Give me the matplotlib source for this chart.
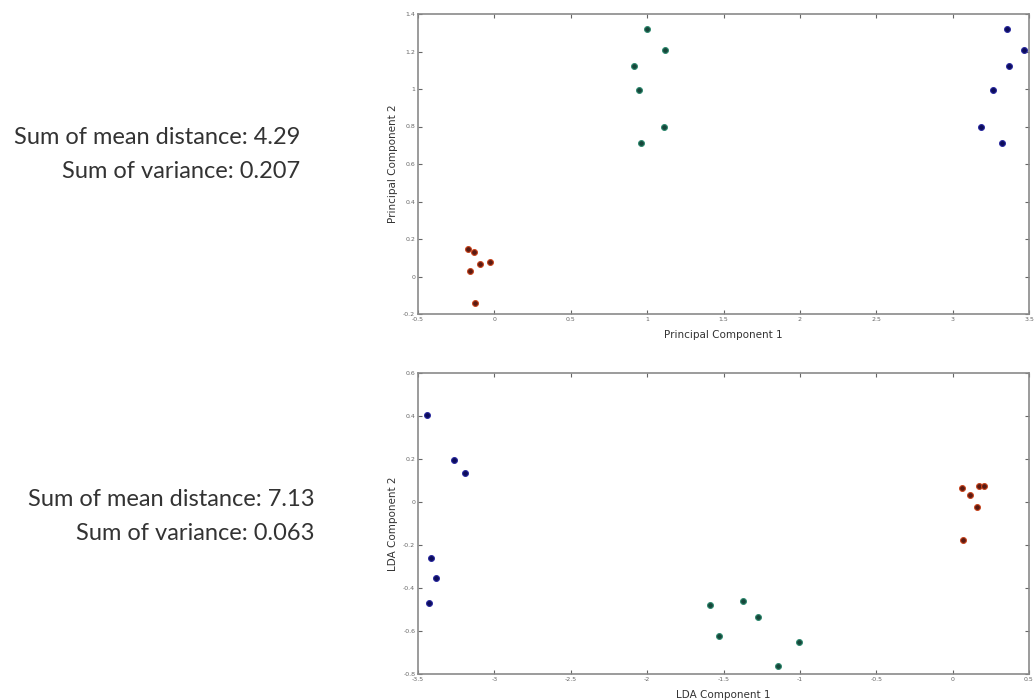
import matplotlib
matplotlib.use("Agg")
import matplotlib.pyplot as plt
import numpy as np

# ---- data ----
pca_red_x = [-0.173, -0.133, -0.157, -0.096, -0.031, -0.129]
pca_red_y = [0.145, 0.129, 0.029, 0.065, 0.077, -0.143]
pca_green_x = [1.001, 1.117, 0.912, 0.947, 1.113, 0.962]
pca_green_y = [1.318, 1.206, 1.123, 0.995, 0.796, 0.710]
pca_blue_x = [3.359, 3.469, 3.368, 3.267, 3.188, 3.323]
pca_blue_y = [1.318, 1.206, 1.123, 0.995, 0.796, 0.710]

lda_blue_x = [-3.441, -3.264, -3.194, -3.415, -3.380, -3.428]
lda_blue_y = [0.404, 0.195, 0.135, -0.259, -0.352, -0.468]
lda_green_x = [-1.590, -1.373, -1.271, -1.528, -1.009, -1.142]
lda_green_y = [-0.480, -0.460, -0.536, -0.625, -0.652, -0.762]
lda_red_x = [0.059, 0.170, 0.207, 0.116, 0.159, 0.066]
lda_red_y = [0.065, 0.076, 0.076, 0.031, -0.025, -0.176]

pca_xticks = [-0.5, 0, 0.5, 1, 1.5, 2, 2.5, 3, 3.5]
pca_xlabels = ["-0.5", "0", "0.5", "1", "1.5", "2", "2.5", "3", "3.5"]
pca_yticks = [-0.2, 0, 0.2, 0.4, 0.6, 0.8, 1.0, 1.2, 1.4]
pca_ylabels = ["-0.2", "0", "0.2", "0.4", "0.6", "0.8", "1", "1.2", "1.4"]
lda_xticks = [-3.5, -3, -2.5, -2, -1.5, -1, -0.5, 0, 0.5]
lda_xlabels = ["-3.5", "-3", "-2.5", "-2", "-1.5", "-1", "-0.5", "0", "0.5"]
lda_yticks = [-0.8, -0.6, -0.4, -0.2, 0, 0.2, 0.4, 0.6]
lda_ylabels = ["-0.8", "-0.6", "-0.4", "-0.2", "0", "0.2", "0.4", "0.6"]

pca_text = ["Sum of mean distance: 4.29", "Sum of variance: 0.207"]
lda_text = ["Sum of mean distance: 7.13", "Sum of variance: 0.063"]

# ---- styles ----
RED_FACE, RED_EDGE = "#5a1a12", "#c8451e"
GREEN_FACE, GREEN_EDGE = "#16463a", "#2f8a70"
BLUE_FACE, BLUE_EDGE = "#0c0c5a", "#2a2aa0"

W, H = 1034, 700
fig = plt.figure(figsize=(W / 100, H / 100), dpi=100)


def px_axes(left, top, right, bottom):
    return fig.add_axes([left / W, 1 - bottom / H, (right - left) / W, (bottom - top) / H])


def style(ax, xt, xl, yt, yl, xlim, ylim, xlabel, ylabel):
    ax.set_xlim(*xlim)
    ax.set_ylim(*ylim)
    ax.set_xticks(xt)
    ax.set_xticklabels(xl)
    ax.set_yticks(yt)
    ax.set_yticklabels(yl)
    ax.tick_params(direction="in", top=True, right=True, length=3, width=0.8,
                   color="#666666", labelsize=4.5, labelcolor="#666666", pad=2)
    for s in ax.spines.values():
        s.set_color("#8a8a8a")
        s.set_linewidth(1.2)
    ax.set_xlabel(xlabel, fontsize=7.5, color="#333333", labelpad=6)
    ax.set_ylabel(ylabel, fontsize=7.5, color="#333333", labelpad=4)


def pts(ax, x, y, face, edge):
    ax.plot(x, y, linestyle="none", marker="o", markersize=4.2,
            markerfacecolor=face, markeredgecolor=edge, markeredgewidth=0.8)


ax1 = px_axes(418, 14, 1029, 314)
pts(ax1, pca_red_x, pca_red_y, RED_FACE, RED_EDGE)
pts(ax1, pca_green_x, pca_green_y, GREEN_FACE, GREEN_EDGE)
pts(ax1, pca_blue_x, pca_blue_y, BLUE_FACE, BLUE_EDGE)
style(ax1, pca_xticks, pca_xlabels, pca_yticks, pca_ylabels, (-0.5, 3.5), (-0.2, 1.4),
      "Principal Component 1", "Principal Component 2")

ax2 = px_axes(418, 373, 1029, 674)
pts(ax2, lda_blue_x, lda_blue_y, BLUE_FACE, BLUE_EDGE)
pts(ax2, lda_green_x, lda_green_y, GREEN_FACE, GREEN_EDGE)
pts(ax2, lda_red_x, lda_red_y, RED_FACE, RED_EDGE)
style(ax2, lda_xticks, lda_xlabels, lda_yticks, lda_ylabels, (-3.5, 0.5), (-0.8, 0.6),
      "LDA Component 1", "LDA Component 2")

tfont = dict(fontsize=17, color="#333333", family=["Lato", "DejaVu Sans"],
             ha="right", va="center")
fig.text(300 / W, 1 - 137 / H, pca_text[0], **tfont)
fig.text(300 / W, 1 - 171 / H, pca_text[1], **tfont)
fig.text(315 / W, 1 - 500 / H, lda_text[0], **tfont)
fig.text(315 / W, 1 - 533 / H, lda_text[1], **tfont)

fig.savefig("out.png", dpi=100, facecolor="white")
